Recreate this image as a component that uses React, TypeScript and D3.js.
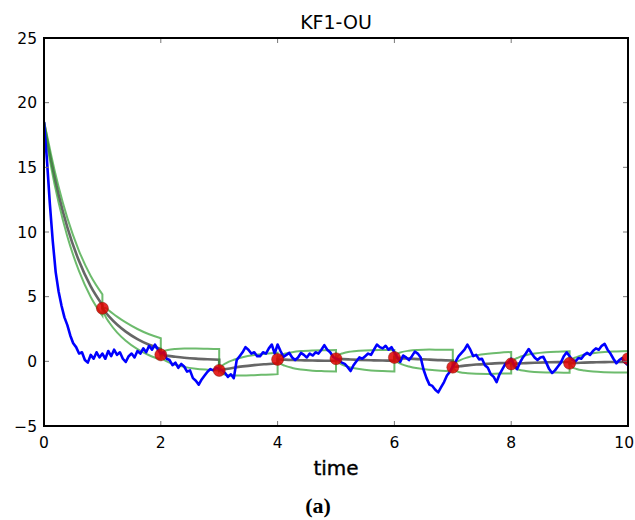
import React from 'react';
import * as d3 from 'd3';

const W = 635;
const H = 520;
const M = { left: 44, right: 628, top: 38, bottom: 426 };

const titleText = 'KF1-OU';
const xLabelText = 'time';
const captionText = '(a)';

const xTicks = [0, 2, 4, 6, 8, 10];
const yTicks = [-5, 0, 5, 10, 15, 20, 25];

// Blue realisation, sampled every 0.05 time units from t = 0 to t = 10
const blueStep = 0.05;
const blueValues = [
  18.5, 15.6, 12.2, 9.3, 6.9, 5.4, 4.3, 3.4, 2.8, 2.0,
  1.4, 1.1, 0.6, 0.7, 0.1, -0.1, 0.5, 0.2, 0.7, 0.3,
  0.6, 0.2, 0.8, 0.4, 0.9, 0.5, 0.7, 0.2, -0.05, 0.4,
  0.6, 0.3, 0.8, 0.6, 1.0, 0.7, 1.2, 0.9, 1.3, 0.9,
  0.6, 0.7, 0.2, 0.1, -0.3, -0.1, -0.5, -0.2, -0.4, -0.8,
  -0.7, -1.3, -1.5, -1.8, -1.4, -1.1, -0.8, -0.6, -0.7, -0.5,
  -0.6, -0.7, -0.9, -1.2, -1.0, -1.3, 0.1, 0.4, 0.7, 1.1,
  0.9, 0.6, 0.7, 0.4, 0.4, 0.7, 0.6, 1.0, 1.3, 0.6,
  1.3, 0.8, 0.35, 0.5, 0.65, 0.3, 0.1, 0.3, 0.65, 0.5,
  0.3, 0.6, 0.45, 0.7, 0.6, 0.9, 1.25, 0.9, 0.7, 0.35,
  0.2, 0.1, -0.1, -0.2, -0.45, -0.75, -0.3, 0.0, 0.3, 0.2,
  0.4, 0.6, 0.5, 0.9, 1.3, 1.1, 1.0, 1.2, 0.9, 1.1,
  0.7, 0.3, -0.05, 0.45, 0.3, 0.1, 0.4, 0.75, 0.6, 0.3,
  -0.65, -1.3, -1.8, -1.9, -2.2, -2.4, -2.0, -1.6, -1.1, -0.8,
  -0.4, 0.0, 0.4, 0.65, 0.9, 1.3, 0.9, 0.4, 0.5, 0.15,
  0.2, -0.3, -0.5, -1.0, -1.2, -1.6, -1.0, -0.6, -0.2, -0.1,
  0.2, -0.3, -0.6, -0.1, 0.3, 0.6, 0.95, 0.6, 0.3, 0.1,
  0.3, 0.35, -0.1, -0.6, -0.9, -0.7, -0.4, -0.1, 0.4, 0.7,
  0.4, 0.1, 0.0, 0.25, 0.2, 0.5, 0.65, 0.5, 0.8, 1.0,
  0.9, 1.2, 1.35, 0.9, 0.6, 0.2, -0.15, 0.1, 0.25, -0.1,
  -0.3,
];

// Observations (red dots)
const obsTimes = [1, 2, 3, 4, 5, 6, 7, 8, 9, 10];
const obsValues = [4.1, 0.5, -0.7, 0.15, 0.2, 0.3, -0.45, -0.2, -0.15, 0.2];

// Filter mean and bands, per inter-observation segment
const segStarts = [0, 1, 2, 3, 4, 5, 6, 7, 8, 9];
const segOffsets = [0, 0.05, 0.12, 0.25, 0.4, 0.6, 0.8, 1.0];
const meanSegs = [
  [18.5, 17.2, 15.54, 12.88, 10.36, 7.75, 5.79, 4.35],
  [4.1, 3.81, 3.44, 2.85, 2.3, 1.72, 1.28, 0.96],
  [0.5, 0.47, 0.42, 0.35, 0.28, 0.21, 0.16, 0.12],
  [-0.7, -0.65, -0.59, -0.49, -0.39, -0.29, -0.22, -0.16],
  [0.15, 0.14, 0.13, 0.1, 0.08, 0.06, 0.05, 0.04],
  [0.2, 0.19, 0.17, 0.14, 0.11, 0.08, 0.06, 0.05],
  [0.3, 0.28, 0.25, 0.21, 0.17, 0.13, 0.09, 0.07],
  [-0.45, -0.42, -0.38, -0.31, -0.25, -0.19, -0.14, -0.11],
  [-0.2, -0.19, -0.17, -0.14, -0.11, -0.08, -0.06, -0.05],
  [-0.15, -0.14, -0.13, -0.1, -0.08, -0.06, -0.05, -0.04],
];
const upperSegs = [
  [18.5, 17.51, 16.0, 13.49, 11.07, 8.53, 6.6, 5.18],
  [4.1, 4.12, 3.9, 3.46, 3.01, 2.5, 2.09, 1.79],
  [0.5, 0.78, 0.88, 0.96, 0.99, 0.99, 0.97, 0.95],
  [-0.7, -0.34, -0.13, 0.12, 0.32, 0.49, 0.59, 0.67],
  [0.15, 0.45, 0.59, 0.71, 0.79, 0.84, 0.86, 0.87],
  [0.2, 0.5, 0.63, 0.75, 0.82, 0.86, 0.87, 0.88],
  [0.3, 0.59, 0.71, 0.82, 0.88, 0.91, 0.9, 0.9],
  [-0.45, -0.11, 0.08, 0.3, 0.46, 0.59, 0.67, 0.72],
  [-0.2, 0.12, 0.29, 0.47, 0.6, 0.7, 0.75, 0.78],
  [-0.15, 0.17, 0.33, 0.51, 0.63, 0.72, 0.76, 0.79],
];
const lowerSegs = [
  [18.5, 16.89, 15.08, 12.27, 9.65, 6.97, 4.98, 3.52],
  [4.1, 3.5, 2.98, 2.24, 1.59, 0.94, 0.47, 0.13],
  [0.5, 0.16, -0.04, -0.26, -0.43, -0.57, -0.65, -0.71],
  [-0.7, -0.96, -1.05, -1.1, -1.1, -1.07, -1.03, -0.99],
  [0.15, -0.17, -0.33, -0.51, -0.63, -0.72, -0.76, -0.79],
  [0.2, -0.12, -0.29, -0.47, -0.6, -0.7, -0.75, -0.78],
  [0.3, -0.03, -0.21, -0.4, -0.54, -0.65, -0.72, -0.76],
  [-0.45, -0.73, -0.84, -0.92, -0.96, -0.97, -0.95, -0.94],
  [-0.2, -0.5, -0.63, -0.75, -0.82, -0.86, -0.87, -0.88],
  [-0.15, -0.45, -0.59, -0.71, -0.79, -0.84, -0.86, -0.87],
];

const fmt = (v: number) => (v < 0 ? '\u2212' + Math.abs(v) : String(v));

export default function App() {
  const x = d3.scaleLinear().domain([0, 10]).range([M.left, M.right]);
  const y = d3.scaleLinear().domain([-5, 25]).range([M.bottom, M.top]);

  const segLine = d3
    .line<[number, number]>()
    .x((d) => x(d[0]))
    .y((d) => y(d[1]))
    .curve(d3.curveMonotoneX);

  const piecewise = (segs: number[][]) =>
    segs
      .map((vals, i) =>
        segLine(vals.map((v, j) => [segStarts[i] + segOffsets[j], v] as [number, number])) || ''
      )
      .map((p, i) => (i === 0 ? p : 'L' + p.slice(1)))
      .join('');

  const blueLine = d3
    .line<number>()
    .x((_, i) => x(i * blueStep))
    .y((d) => y(d));

  const tickColor = '#777';
  const tickLen = 5;
  const font = '"DejaVu Sans", sans-serif';
  const lastTick = xTicks[xTicks.length - 1];

  return (
    <svg
      width={W}
      height={H}
      style={{ position: 'absolute', left: 0, top: 0, background: '#fff' }}
      xmlns="http://www.w3.org/2000/svg"
    >
      <rect x={0} y={0} width={W} height={H} fill="#fff" />
      <defs>
        <clipPath id="plotClip">
          <rect x={M.left} y={M.top} width={M.right - M.left} height={M.bottom - M.top} />
        </clipPath>
      </defs>

      <g clipPath="url(#plotClip)">
        <path d={piecewise(meanSegs)} fill="none" stroke="#333" strokeOpacity={0.75} strokeWidth={2.6} />
        <path d={piecewise(upperSegs)} fill="none" stroke="#2f9e2f" strokeOpacity={0.7} strokeWidth={2} />
        <path d={piecewise(lowerSegs)} fill="none" stroke="#2f9e2f" strokeOpacity={0.7} strokeWidth={2} />
        <path d={blueLine(blueValues) || ''} fill="none" stroke="#0000ff" strokeWidth={2.6} strokeLinejoin="round" />
        {obsTimes.map((t, i) => (
          <circle key={i} cx={x(t)} cy={y(obsValues[i])} r={6} fill="#e00000" fillOpacity={0.85} stroke="#7a1a00" strokeWidth={0.8} strokeOpacity={0.6} />
        ))}
      </g>

      {/* ticks */}
      {xTicks.map((t) => (
        <g key={'xt' + t}>
          <line x1={x(t)} x2={x(t)} y1={M.bottom} y2={M.bottom - tickLen} stroke={tickColor} strokeWidth={1} />
          <line x1={x(t)} x2={x(t)} y1={M.top} y2={M.top + tickLen} stroke={tickColor} strokeWidth={1} />
          <text
            x={t === lastTick ? W - 1 : x(t)}
            y={M.bottom + 22}
            textAnchor={t === lastTick ? 'end' : 'middle'}
            fontFamily={font}
            fontSize={15.5}
            fill="#000"
          >
            {fmt(t)}
          </text>
        </g>
      ))}
      {yTicks.map((v) => (
        <g key={'yt' + v}>
          <line x1={M.left} x2={M.left + tickLen} y1={y(v)} y2={y(v)} stroke={tickColor} strokeWidth={1} />
          <line x1={M.right} x2={M.right - tickLen} y1={y(v)} y2={y(v)} stroke={tickColor} strokeWidth={1} />
          <text x={37} y={y(v)} dy="0.36em" textAnchor="end" fontFamily={font} fontSize={15.5} fill="#000">
            {fmt(v)}
          </text>
        </g>
      ))}

      {/* frame */}
      <rect x={M.left} y={M.top} width={M.right - M.left} height={M.bottom - M.top} fill="none" stroke="#000" strokeWidth={2} />

      <text x={(M.left + M.right) / 2} y={29} textAnchor="middle" fontFamily={font} fontSize={19} fill="#000">
        {titleText}
      </text>
      <text x={(M.left + M.right) / 2} y={475} textAnchor="middle" fontFamily={font} fontSize={20} fill="#000" stroke="#000" strokeWidth={0.4}>
        {xLabelText}
      </text>
      <text x={318} y={513} textAnchor="middle" fontFamily={'"Liberation Serif", "Times New Roman", serif'} fontWeight="bold" fontSize={22} fill="#000">
        {captionText}
      </text>
    </svg>
  );
}
